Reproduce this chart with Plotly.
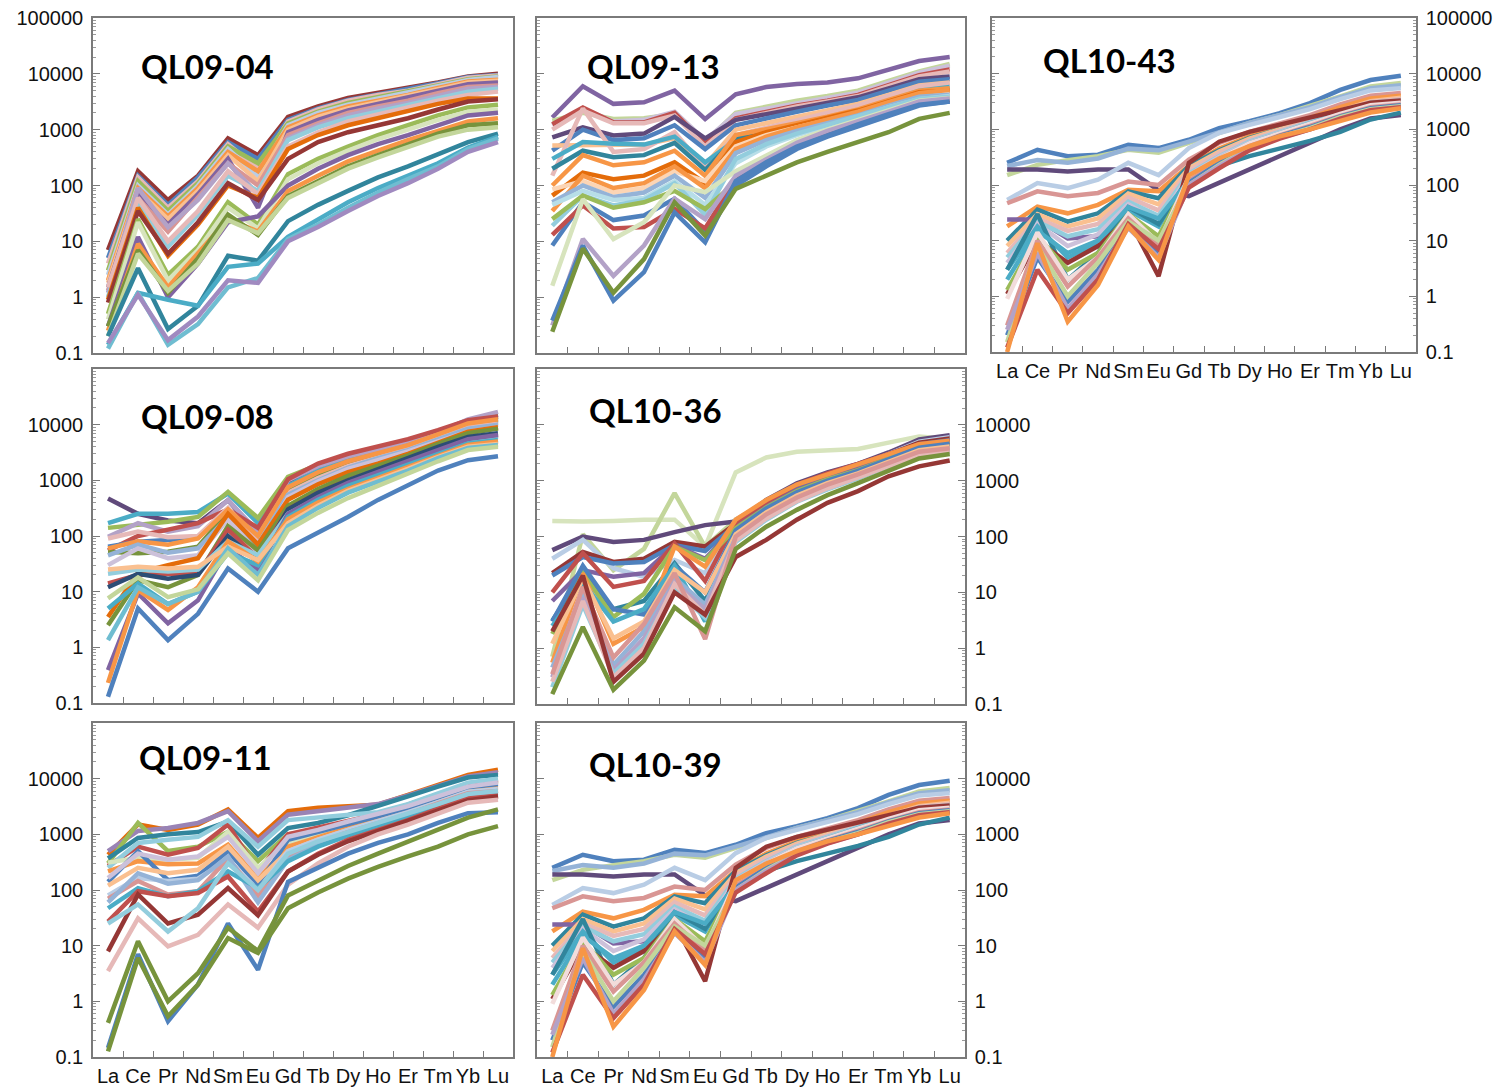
import plotly.graph_objects as go

W, H = 1501, 1092
ELEMENTS = ["La", "Ce", "Pr", "Nd", "Sm", "Eu", "Gd", "Tb", "Dy", "Ho", "Er", "Tm", "Yb", "Lu"]
Y_TICK_VALS = [0.1, 1, 10, 100, 1000, 10000, 100000]
Y_TICK_TEXT = ["0.1", "1", "10", "100", "1000", "10000", "100000"]

# ---------------- data (chondrite-normalised REE) ----------------
QL09_04 = [
    [7, 180, 55, 150, 700, 350, 1700, 2600, 3700, 4600, 5500, 7000, 9000, 10000],
    [5, 150, 45, 140, 600, 300, 1500, 2400, 3400, 4300, 5200, 6800, 8800, 9500],
    [4, 140, 40, 120, 550, 200, 1400, 2300, 3300, 4200, 5000, 6500, 8500, 9300],
    [3, 120, 35, 110, 500, 250, 1300, 2100, 3000, 3800, 4700, 6200, 8000, 9000],
    [2.5, 100, 30, 100, 450, 150, 1200, 2000, 2800, 3600, 4500, 6000, 7800, 8800],
    [2, 90, 28, 90, 400, 180, 1100, 1800, 2600, 3300, 4200, 5600, 7300, 7800],
    [1.8, 80, 25, 80, 350, 120, 1000, 1700, 2400, 3100, 4000, 5300, 7000, 7500],
    [1.5, 70, 20, 70, 300, 40, 900, 1500, 2200, 2900, 3700, 5000, 6500, 7000],
    [1.3, 60, 15, 60, 250, 100, 800, 1300, 2000, 2600, 3300, 4500, 5800, 6200],
    [1.2, 90, 18, 55, 250, 70, 700, 1200, 1800, 2400, 3000, 4100, 5400, 5800],
    [1.0, 50, 8, 30, 150, 80, 650, 1100, 1600, 2100, 2700, 3600, 4800, 5400],
    [1.5, 60, 10, 35, 180, 70, 500, 900, 1400, 1900, 2500, 3300, 4200, 4800],
    [0.9, 40, 5.5, 20, 100, 60, 450, 800, 1200, 1600, 2100, 2900, 3600, 3600],
    [0.8, 35, 6, 22, 110, 55, 300, 600, 900, 1200, 1600, 2300, 3200, 3500],
    [0.5, 25, 2.5, 8, 50, 20, 160, 300, 500, 800, 1200, 1800, 2500, 2800],
    [0.4, 22, 2, 7, 40, 17, 130, 250, 420, 680, 1000, 1500, 2100, 2300],
    [0.3, 12, 1, 4, 22, 28, 100, 200, 350, 550, 800, 1200, 1800, 2000],
    [0.25, 9, 1.5, 6, 25, 15, 80, 150, 270, 420, 650, 950, 1400, 1600],
    [0.3, 7, 1.2, 5, 30, 13, 65, 120, 220, 350, 550, 850, 1200, 1300],
    [0.2, 6, 1.3, 4, 24, 14, 60, 110, 200, 320, 500, 750, 1000, 1100],
    [0.2, 3.3, 0.27, 0.7, 5.5, 4.5, 23, 45, 80, 140, 220, 360, 600, 850],
    [0.14, 1.2, 0.9, 0.7, 3.5, 4, 12, 25, 50, 90, 150, 250, 480, 750],
    [0.12, 1.2, 0.14, 0.33, 1.5, 2.2, 11, 20, 40, 75, 130, 220, 450, 700],
    [0.15, 1.1, 0.17, 0.45, 2, 1.8, 10, 18, 35, 65, 110, 200, 400, 600],
]
QL09_04_COLORS = ["#953735", "#4F81BD", "#E6B9B8", "#9BBB59", "#B9CDE5", "#F79646",
                  "#FAC090", "#8064A2", "#D99694", "#B3A2C7", "#93CDDD", "#E6B9B8",
                  "#E46C0A", "#953735", "#9BBB59", "#D7E4BD", "#8064A2", "#F79646",
                  "#77933C", "#C3D69B", "#31859C", "#4BACC6", "#6FBDD1", "#A08AC0"]

QL09_13 = [
    [1650, 6000, 2900, 3100, 5000, 1550, 4300, 5800, 6600, 7000, 8300, 12000, 17000, 20000],
    [1450, 2000, 1550, 1600, 1900, 600, 2000, 2600, 3300, 4000, 5000, 7500, 11000, 15000],
    [1200, 2400, 1400, 1500, 2100, 650, 1900, 2400, 3000, 3700, 4600, 7000, 10500, 14000],
    [1250, 2500, 1350, 1350, 2000, 560, 1600, 2100, 2700, 3300, 4200, 6300, 9500, 12000],
    [1000, 2200, 1300, 1300, 1800, 500, 1500, 2000, 2600, 3200, 4000, 6000, 9000, 11000],
    [730, 1100, 790, 850, 1700, 700, 1500, 1900, 2400, 3000, 3800, 5500, 8000, 9000],
    [420, 1000, 650, 700, 1200, 450, 1200, 1600, 2100, 2700, 3400, 5000, 7200, 8000],
    [520, 520, 520, 540, 700, 230, 1000, 1300, 1700, 2200, 2900, 4200, 6200, 7000],
    [150, 2400, 400, 450, 900, 200, 800, 1100, 1500, 2000, 2700, 4000, 6000, 6800],
    [300, 600, 560, 540, 750, 260, 650, 900, 1200, 1600, 2200, 3300, 5000, 5800],
    [200, 420, 320, 350, 580, 190, 700, 850, 1100, 1450, 2000, 3000, 4500, 5000],
    [100, 350, 230, 260, 420, 150, 800, 1000, 1300, 1700, 2300, 3400, 5000, 5500],
    [66, 170, 130, 150, 260, 110, 600, 900, 1200, 1600, 2200, 3200, 4700, 5000],
    [85, 120, 75, 90, 180, 120, 500, 800, 1100, 1500, 2000, 3000, 4300, 4500],
    [35, 150, 90, 110, 220, 90, 450, 750, 1100, 1500, 2100, 3100, 4500, 5200],
    [50, 100, 62, 75, 150, 60, 380, 650, 950, 1300, 1800, 2700, 3900, 4200],
    [45, 80, 55, 60, 120, 45, 250, 500, 800, 1150, 1650, 2500, 3500, 4000],
    [19, 66, 44, 55, 110, 30, 300, 550, 850, 1200, 1700, 2500, 3600, 3900],
    [25, 66, 40, 50, 80, 38, 115, 250, 500, 850, 1300, 2000, 3000, 3500],
    [8.4, 50, 24, 29, 58, 15, 100, 220, 450, 750, 1150, 1800, 2700, 3200],
    [13, 44, 17, 18, 38, 17, 130, 280, 550, 900, 1350, 2100, 3100, 3400],
    [1.6, 57, 11, 22, 100, 76, 180, 350, 650, 1000, 1500, 2300, 3300, 3700],
    [0.31, 11, 2.4, 8.4, 58, 25, 150, 300, 580, 950, 1400, 2100, 3200, 3600],
    [0.38, 8.4, 0.87, 2.8, 33, 9.6, 120, 260, 500, 800, 1250, 1900, 2800, 3200],
    [0.24, 7.4, 1.2, 4.8, 50, 12.7, 87, 150, 260, 400, 600, 900, 1560, 2000],
]
QL09_13_COLORS = ["#8064A2", "#C3D69B", "#CCC1DA", "#C0504D", "#E6B9B8", "#604A7B",
                  "#4F81BD", "#FAC090", "#E6B9B8", "#4BACC6", "#31859C", "#F79646",
                  "#E46C0A", "#FCD5B5", "#F79646", "#95B3D7", "#B7DEE8", "#93CDDD",
                  "#9BBB59", "#4F81BD", "#C0504D", "#D7E4BD", "#B3A2C7", "#4F81BD",
                  "#77933C"]

QL10_43 = [
    [250, 430, 330, 350, 530, 460, 650, 1050, 1400, 1950, 2950, 5100, 7700, 9200],
    [150, 230, 280, 330, 430, 380, 570, 860, 1300, 1800, 2600, 3900, 5900, 6800],
    [220, 280, 250, 300, 450, 420, 600, 900, 1300, 1800, 2500, 3800, 5500, 6200],
    [190, 190, 175, 190, 190, 80, 63, 110, 190, 330, 570, 1000, 1560, 1800],
    [54, 108, 88, 125, 250, 150, 460, 860, 1200, 1700, 2300, 3500, 5000, 5500],
    [47, 77, 63, 72, 115, 100, 285, 570, 900, 1300, 1800, 2800, 4000, 4500],
    [18, 41, 31, 44, 82, 77, 220, 450, 750, 1100, 1600, 2500, 3600, 4000],
    [10, 36, 22, 31, 77, 58, 220, 420, 700, 1000, 1400, 2100, 3100, 3500],
    [24, 24, 11, 12, 40, 20, 180, 380, 650, 950, 1400, 2100, 3000, 3300],
    [8, 30, 18, 25, 70, 45, 200, 400, 680, 1000, 1450, 2200, 3200, 3700],
    [6, 25, 15, 20, 60, 35, 180, 370, 640, 950, 1400, 2150, 3100, 3500],
    [5, 22, 12, 16, 50, 28, 160, 330, 600, 900, 1350, 2050, 3000, 3300],
    [4, 20, 8, 13, 45, 22, 150, 320, 580, 870, 1300, 2000, 2900, 3200],
    [3, 18, 5, 9, 35, 18, 140, 300, 560, 850, 1250, 1950, 2800, 3100],
    [3, 30, 2, 6, 40, 20, 130, 220, 330, 450, 620, 900, 1500, 2000],
    [1.1, 10, 4, 8, 25, 2.3, 250, 600, 900, 1200, 1600, 2200, 3000, 3300],
    [1.3, 12, 3, 6, 30, 12, 130, 280, 520, 800, 1200, 1800, 2600, 2900],
    [2, 15, 6, 10, 40, 25, 120, 260, 500, 780, 1150, 1750, 2500, 2800],
    [0.9, 14, 2, 5, 30, 9, 140, 300, 560, 850, 1250, 1900, 2700, 3000],
    [0.3, 10, 1.5, 5, 25, 8, 120, 260, 500, 780, 1150, 1750, 2500, 2800],
    [0.2, 5, 0.8, 3, 20, 6, 110, 250, 480, 760, 1100, 1700, 2400, 2700],
    [0.15, 8, 1, 4, 22, 10, 100, 230, 460, 730, 1050, 1650, 2300, 2600],
    [0.25, 6, 0.6, 2.5, 17, 5, 100, 220, 440, 700, 1000, 1550, 2200, 2500],
    [0.12, 3, 0.5, 2, 20, 7, 90, 200, 420, 680, 1000, 1550, 2200, 2500],
    [0.1, 9, 0.35, 1.6, 18, 4.5, 150, 300, 500, 750, 1000, 1400, 2000, 2400],
]
QL10_43_COLORS = ["#4F81BD", "#C3D69B", "#95B3D7", "#604A7B", "#B9CDE5", "#D99694",
                  "#F79646", "#31859C", "#8064A2", "#FAC090", "#E6B9B8", "#93CDDD",
                  "#CCC1DA", "#4BACC6", "#31859C", "#953735", "#9BBB59", "#4BACC6",
                  "#F2DCDB", "#D99694", "#4F81BD", "#C3D69B", "#B3A2C7", "#C0504D",
                  "#F79646"]

QL09_08 = [
    [470, 250, 190, 170, 440, 110, 900, 1600, 2500, 3500, 5000, 7500, 12000, 15000],
    [170, 250, 250, 270, 580, 170, 800, 1500, 2300, 3200, 4500, 7000, 11000, 13000],
    [140, 160, 180, 220, 620, 210, 1150, 1900, 2800, 3700, 5000, 7500, 11500, 14000],
    [97, 170, 120, 150, 440, 120, 1000, 1800, 2700, 3600, 4800, 7200, 12500, 17000],
    [55, 100, 130, 170, 300, 140, 1050, 2000, 3000, 4000, 5500, 8000, 12000, 14000],
    [64, 79, 85, 95, 280, 90, 700, 1300, 2100, 3000, 4200, 6500, 10000, 12000],
    [52, 49, 52, 64, 270, 60, 650, 1200, 2000, 2800, 4000, 6200, 9500, 11000],
    [90, 120, 95, 100, 320, 80, 600, 1100, 1800, 2600, 3700, 5800, 9000, 10500],
    [60, 80, 70, 90, 300, 100, 750, 1400, 2200, 3100, 4300, 6700, 10500, 12500],
    [45, 70, 50, 60, 220, 70, 550, 1000, 1700, 2500, 3500, 5500, 8500, 10000],
    [30, 60, 40, 45, 200, 50, 500, 950, 1600, 2300, 3300, 5000, 7500, 9000],
    [3.5, 22, 30, 40, 250, 70, 450, 850, 1400, 2000, 3000, 4800, 7500, 9000],
    [2.5, 16, 12, 20, 150, 55, 350, 700, 1200, 1800, 2800, 4500, 7000, 8500],
    [14, 20, 21, 21, 130, 40, 300, 600, 1000, 1500, 2300, 3600, 5500, 6500],
    [12, 21, 17, 20, 100, 35, 300, 600, 1000, 1600, 2500, 4000, 6000, 7000],
    [21, 25, 23, 25, 80, 45, 250, 480, 850, 1300, 2000, 3200, 5000, 6000],
    [0.39, 9.3, 2.7, 7, 60, 25, 250, 500, 900, 1400, 2200, 3500, 5500, 6500],
    [5, 14, 6, 10, 50, 30, 220, 450, 800, 1250, 1900, 3000, 4600, 5300],
    [0.23, 10.7, 4.7, 12, 80, 35, 200, 400, 700, 1100, 1700, 2800, 4300, 5000],
    [25, 28, 26, 28, 64, 37, 170, 350, 650, 1000, 1600, 2600, 4000, 4500],
    [1.35, 12, 6, 10, 60, 20, 150, 320, 600, 950, 1500, 2500, 3800, 4300],
    [7.6, 18, 8, 11, 49, 16, 128, 260, 480, 800, 1300, 2200, 3500, 4000],
    [0.13, 5, 1.35, 4, 26, 10, 60, 112, 220, 445, 820, 1500, 2300, 2700],
]
QL09_08_COLORS = ["#604A7B", "#4BACC6", "#9BBB59", "#B3A2C7", "#C0504D", "#4F81BD",
                  "#77933C", "#E6B9B8", "#F79646", "#95B3D7", "#CCC1DA", "#E46C0A",
                  "#77933C", "#C0504D", "#2C4D75", "#93CDDD", "#8064A2", "#4BACC6",
                  "#F79646", "#FAC090", "#6FBDD1", "#C3D69B", "#4F81BD"]

QL10_36 = [
    [190, 185, 190, 200, 200, 65, 1400, 2600, 3300, 3500, 3700, 4800, 6200, 5600],
    [0.7, 110, 25, 60, 600, 65, 200, 400, 700, 1100, 1600, 2400, 3500, 4000],
    [57, 100, 80, 87, 120, 160, 185, 450, 900, 1400, 2000, 3200, 5500, 6500],
    [40, 87, 27, 19, 38, 22, 200, 420, 800, 1300, 1900, 3000, 5000, 6000],
    [22, 53, 35, 40, 80, 66, 170, 400, 750, 1200, 1800, 2900, 4800, 5700],
    [20, 43, 33, 35, 70, 55, 160, 380, 700, 1150, 1700, 2800, 4500, 5300],
    [7, 25, 19, 22, 70, 40, 150, 360, 680, 1100, 1650, 2700, 4300, 5000],
    [10, 50, 12.5, 16, 75, 16, 180, 420, 850, 1350, 2000, 3000, 4500, 5000],
    [3.1, 22, 5, 7, 33, 7, 120, 300, 600, 950, 1450, 2300, 3800, 4500],
    [1.8, 22, 3.6, 9.4, 66, 38, 140, 330, 650, 1050, 1550, 2500, 4000, 4700],
    [0.55, 22, 1.2, 2.4, 66, 29, 200, 450, 850, 1300, 1900, 2900, 4500, 5200],
    [3, 30, 5, 4, 30, 10, 130, 320, 620, 1000, 1500, 2400, 3900, 4600],
    [2.5, 15, 3, 5, 30, 3, 100, 250, 500, 850, 1300, 2000, 3200, 3700],
    [1.2, 18, 1.5, 3, 25, 10, 110, 270, 540, 900, 1350, 2200, 3500, 4100],
    [0.45, 10, 0.5, 2, 18, 6, 95, 240, 480, 800, 1250, 2000, 3100, 3600],
    [0.3, 8, 0.4, 1.5, 15, 5, 90, 220, 450, 750, 1150, 1900, 3000, 3500],
    [0.2, 6, 0.35, 1.2, 12, 3.5, 80, 200, 420, 700, 1100, 1800, 2800, 3300],
    [0.25, 7, 0.3, 1, 14, 4, 85, 210, 430, 730, 1150, 1850, 2900, 3400],
    [0.34, 12.5, 0.68, 2.7, 22, 1.45, 100, 250, 500, 850, 1300, 2100, 3300, 3800],
    [2, 20, 0.25, 0.8, 10, 4, 43, 87, 200, 400, 650, 1200, 1800, 2300],
    [0.15, 2.4, 0.18, 0.6, 5.4, 2, 60, 150, 300, 550, 900, 1500, 2500, 3000],
]
QL10_36_COLORS = ["#D7E4BD", "#C3D69B", "#604A7B", "#B9CDE5", "#953735", "#4F81BD",
                  "#8064A2", "#C0504D", "#31859C", "#9BBB59", "#F79646", "#4F81BD",
                  "#4BACC6", "#FAC090", "#95B3D7", "#B3A2C7", "#93CDDD", "#E6B9B8",
                  "#D99694", "#953735", "#77933C"]

QL09_11 = [
    [430, 1500, 1200, 1500, 2800, 860, 2600, 3000, 3200, 3400, 5100, 7700, 11700, 14500],
    [500, 1150, 1300, 1600, 2600, 750, 2250, 2600, 3000, 3500, 5000, 7500, 11000, 13000],
    [300, 1600, 500, 600, 1100, 330, 1000, 1200, 1500, 2000, 3000, 4800, 7500, 9000],
    [370, 860, 1000, 1100, 1700, 430, 1300, 1600, 2200, 3200, 4800, 7200, 10500, 11700],
    [270, 600, 430, 570, 1500, 215, 1000, 1300, 1700, 2300, 3400, 5200, 8000, 9500],
    [250, 700, 800, 900, 1800, 600, 1800, 2000, 2200, 2500, 3500, 5500, 8500, 10000],
    [310, 380, 350, 380, 1100, 250, 700, 1000, 1400, 1900, 2800, 4300, 6500, 7500],
    [215, 330, 290, 300, 650, 160, 600, 900, 1300, 1800, 2600, 4000, 6200, 7000],
    [140, 500, 150, 180, 500, 120, 800, 1100, 1500, 2100, 3000, 4600, 7000, 8000],
    [165, 450, 350, 400, 900, 200, 900, 1200, 1700, 2300, 3200, 4800, 7200, 8500],
    [120, 250, 200, 230, 600, 150, 500, 800, 1200, 1700, 2400, 3700, 5600, 6200],
    [80, 165, 145, 160, 350, 100, 500, 800, 1200, 1700, 2500, 3800, 5800, 6500],
    [70, 145, 83, 95, 370, 80, 400, 700, 1100, 1600, 2300, 3600, 5500, 6000],
    [60, 200, 130, 150, 400, 60, 350, 650, 1000, 1450, 2100, 3200, 4800, 5200],
    [47, 108, 77, 95, 215, 108, 330, 600, 950, 1400, 2100, 3300, 5000, 5500],
    [27, 95, 77, 88, 175, 41, 215, 450, 800, 1200, 1800, 2900, 4500, 5000],
    [7.9, 83, 25, 36, 108, 35, 215, 430, 750, 1150, 1700, 2700, 4100, 4800],
    [25, 55, 18, 47, 300, 100, 450, 750, 1100, 1600, 2300, 3500, 5300, 6000],
    [3.5, 31, 9.7, 15.7, 55, 21, 125, 300, 600, 1000, 1500, 2400, 3700, 4200],
    [0.145, 7, 0.44, 2, 25, 3.7, 140, 250, 450, 700, 1000, 1600, 2400, 2500],
    [0.41, 12, 1, 3.2, 21, 8, 80, 150, 270, 450, 750, 1200, 2000, 2800],
    [0.126, 6, 0.54, 2, 13.7, 7.4, 47, 90, 160, 260, 400, 600, 1000, 1400],
]
QL09_11_COLORS = ["#E46C0A", "#9983B5", "#9BBB59", "#31859C", "#C0504D", "#93CDDD",
                  "#D7E4BD", "#F79646", "#4F81BD", "#CCC1DA", "#FAC090", "#B9CDE5",
                  "#D99694", "#95B3D7", "#4BACC6", "#C0504D", "#953735", "#93CDDD",
                  "#E6B9B8", "#4F81BD", "#77933C", "#77933C"]

QL10_39 = [row[:] for row in QL10_43]
QL10_39_COLORS = list(QL10_43_COLORS)

# ---------------- panel layout (pixel boxes: left, top, right, bottom) ----------------
PANELS = [
    ("QL09-04", QL09_04, QL09_04_COLORS, (93, 18, 513, 353), "left", False, True, (207, 66)),
    ("QL09-13", QL09_13, QL09_13_COLORS, (537, 18, 965, 353), None, False, False, (653, 66)),
    ("QL10-43", QL10_43, QL10_43_COLORS, (992, 18, 1416, 352), "right", True, True, (1109, 60)),
    ("QL09-08", QL09_08, QL09_08_COLORS, (93, 369, 513, 703), "left", False, False, (207, 416)),
    ("QL10-36", QL10_36, QL10_36_COLORS, (537, 369, 965, 704), "right", False, False, (655, 410)),
    ("QL09-11", QL09_11, QL09_11_COLORS, (93, 723, 513, 1057), "left", True, False, (205, 757)),
    ("QL10-39", QL10_39, QL10_39_COLORS, (537, 723, 965, 1057), "right", True, False, (655, 764)),
]

MINOR_VALS = [k * 10.0 ** n for n in range(-1, 5) for k in range(2, 10)]
AXIS_COLOR = "#7a7a7a"
TICK_FONT = dict(family="Liberation Sans, Arial, sans-serif", size=20, color="#111111")

fig = go.Figure()
layout = dict(width=W, height=H, margin=dict(l=0, r=0, t=0, b=0, autoexpand=False),
              paper_bgcolor="white", plot_bgcolor="white", showlegend=False,
              annotations=[])

for i, (name, data, colors, box, yside, xlabels, toplabel, tcen) in enumerate(PANELS, start=1):
    sfx = "" if i == 1 else str(i)
    l, t, r, b = box
    for j, row in enumerate(data):
        fig.add_trace(go.Scatter(x=ELEMENTS, y=row, mode="lines",
                                 line=dict(color=colors[j % len(colors)], width=4.5),
                                 xaxis="x" + sfx, yaxis="y" + sfx, hoverinfo="skip"))
    layout["xaxis" + sfx] = dict(
        domain=[l / W, r / W], anchor="y" + sfx, type="category",
        categoryorder="array", categoryarray=ELEMENTS, range=[-0.5, 13.5],
        tickson="boundaries", ticks="inside", ticklen=6, tickcolor=AXIS_COLOR,
        showline=True, linecolor=AXIS_COLOR, linewidth=1.5, mirror=True,
        showgrid=False, zeroline=False, showticklabels=xlabels, tickangle=0,
        automargin=False, tickfont=TICK_FONT, fixedrange=True)
    if toplabel:
        tv, tt = Y_TICK_VALS, Y_TICK_TEXT
    else:
        tv, tt = Y_TICK_VALS[:-1], Y_TICK_TEXT[:-1]
    ya = dict(
        domain=[1 - b / H, 1 - t / H], anchor="x" + sfx, type="log", range=[-1, 5],
        tickmode="array", tickvals=tv, ticktext=tt, ticks="inside", ticklen=7,
        tickcolor=AXIS_COLOR, showline=True, linecolor=AXIS_COLOR, linewidth=1.5,
        showgrid=False, zeroline=False, tickfont=TICK_FONT, fixedrange=True,
        ticklabelstandoff=4, automargin=False,
        minor=dict(tickmode="array", tickvals=MINOR_VALS, ticks="inside", ticklen=3,
                   tickcolor="#9a9a9a", showgrid=False))
    if yside is None:
        ya.update(showticklabels=False, mirror=True)
    elif yside == "right":
        ya.update(side="right", mirror="ticks")
    else:
        ya.update(side="left", mirror=True)
    layout["yaxis" + sfx] = ya
    layout["annotations"].append(dict(
        text="<b>" + name + "</b>", x=tcen[0] / W, y=1 - tcen[1] / H,
        xref="paper", yref="paper", xanchor="center", yanchor="middle",
        showarrow=False, font=dict(family="Lato, Open Sans, sans-serif", size=33, color="black")))

fig.update_layout(**layout)
fig.write_html("out.html", config={"displayModeBar": False},
               post_script="document.body.style.margin='0';document.body.style.overflow='hidden';")
